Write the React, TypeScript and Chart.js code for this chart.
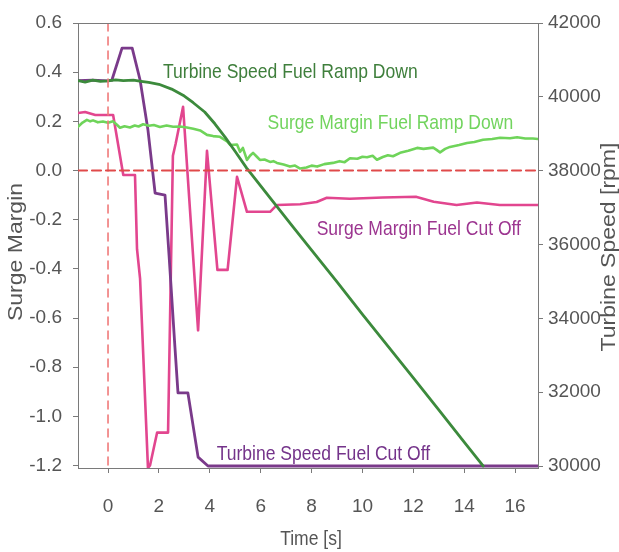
import React, { useEffect, useRef } from "react";
import { Chart, registerables } from "chart.js";

Chart.register(...registerables);

// Axis ticks
const timeTicks = [0, 2, 4, 6, 8, 10, 12, 14, 16];
const marginTicks = [0.6, 0.4, 0.2, 0.0, -0.2, -0.4, -0.6, -0.8, -1.0, -1.2];
const speedTicks = [30000, 32000, 34000, 36000, 38000, 40000, 42000];

// Turbine speed, fuel ramp down [rpm]
const rampSpeedTime = [-1.18, -0.9, -0.6, -0.3, 0.0, 0.3, 0.6, 1.0, 1.3, 1.6, 2.0, 2.5, 3.0, 3.35, 3.8, 4.2, 4.6, 5.0, 5.45, 6.37, 7.27, 8.0, 9.0, 10.0, 11.0, 12.0, 13.0, 14.0, 14.75];
const rampSpeedRpm = [40440, 40400, 40450, 40420, 40430, 40460, 40440, 40450, 40420, 40390, 40340, 40210, 40020, 39840, 39590, 39270, 38910, 38520, 38070, 37260, 36480, 35850, 34990, 34110, 33250, 32390, 31520, 30650, 30000];

// Turbine speed, fuel cut off [rpm]
const cutSpeedTime = [-1.18, -0.6, 0.0, 0.15, 0.55, 0.95, 1.26, 1.57, 1.85, 2.24, 2.4, 2.63, 2.75, 3.14, 3.54, 3.93, 16.9];
const cutSpeedRpm = [40440, 40450, 40430, 40450, 41320, 41320, 40455, 39100, 37395, 37340, 35690, 33220, 31980, 31980, 30240, 30000, 30000];

// Surge margin, fuel ramp down
const rampMarginTime = [-1.18, -1.0, -0.83, -0.7, -0.59, -0.4, -0.2, 0.0, 0.2, 0.35, 0.47, 0.65, 0.86, 1.05, 1.2, 1.38, 1.6, 1.8, 2.04, 2.3, 2.56, 2.83, 3.1, 3.35, 3.62, 3.89, 4.13, 4.4, 4.68, 4.8, 5.07, 5.19, 5.3, 5.46, 5.58, 5.7, 5.86, 5.97, 6.15, 6.37, 6.5, 6.64, 6.9, 7.15, 7.35, 7.55, 7.8, 8.0, 8.22, 8.5, 8.84, 9.1, 9.3, 9.51, 9.8, 10.0, 10.18, 10.4, 10.57, 10.8, 11.0, 11.2, 11.48, 11.8, 12.15, 12.4, 12.78, 12.9, 13.05, 13.25, 13.44, 13.8, 14.11, 14.4, 14.74, 15.1, 15.41, 15.8, 16.08, 16.4, 16.7, 16.9];
const rampMarginValue = [0.178, 0.195, 0.206, 0.2, 0.204, 0.196, 0.199, 0.194, 0.2, 0.186, 0.174, 0.18, 0.175, 0.183, 0.179, 0.188, 0.182, 0.185, 0.177, 0.183, 0.178, 0.179, 0.175, 0.17, 0.163, 0.145, 0.14, 0.137, 0.118, 0.104, 0.106, 0.076, 0.092, 0.043, 0.06, 0.072, 0.055, 0.043, 0.045, 0.035, 0.038, 0.031, 0.024, 0.016, 0.02, 0.008, 0.012, 0.02, 0.016, 0.026, 0.031, 0.038, 0.034, 0.05, 0.048, 0.056, 0.054, 0.06, 0.044, 0.055, 0.062, 0.058, 0.072, 0.08, 0.092, 0.088, 0.093, 0.085, 0.074, 0.088, 0.096, 0.104, 0.112, 0.116, 0.125, 0.128, 0.133, 0.131, 0.135, 0.13, 0.13, 0.128];

// Surge margin, fuel cut off
const cutMarginTime = [-1.18, -0.9, -0.5, 0.2, 0.6, 1.06, 1.14, 1.26, 1.57, 1.65, 1.93, 2.36, 2.55, 2.66, 2.95, 3.54, 3.89, 4.3, 4.7, 5.07, 5.46, 6.37, 6.64, 7.55, 8.2, 8.6, 9.5, 10.8, 12.1, 12.8, 13.7, 14.5, 15.4, 16.9];
const cutMarginValue = [0.234, 0.238, 0.226, 0.226, -0.018, -0.018, -0.32, -0.44, -1.21, -1.2, -1.066, -1.066, 0.06, 0.11, 0.259, -0.65, 0.08, -0.404, -0.404, -0.026, -0.168, -0.168, -0.14, -0.137, -0.128, -0.111, -0.115, -0.11, -0.107, -0.127, -0.14, -0.13, -0.14, -0.14];

// Reference lines
const zeroLineTime = [-1.18, 16.9];
const zeroLineValue = [0, 0];
const startLineTime = [0, 0];
const startLineValue = [0.6, -1.21];

// In-plot labels, anchored at (time, surge margin) of the text's left baseline
const labelText = ["Turbine Speed Fuel Ramp Down", "Surge Margin Fuel Ramp Down", "Surge Margin Fuel Cut Off", "Turbine Speed Fuel Cut Off"];
const labelTime = [2.16, 6.27, 8.2, 4.27];
const labelValue = [0.375, 0.17, -0.264, -1.176];
const labelColor = ["#3f7f3c", "#72d45e", "#9c3590", "#74338a"];

const zip = (xs: number[], ys: number[]) => xs.map((x, i) => ({ x, y: ys[i] }));

const SANS = "'Liberation Sans', Arial, sans-serif";
const TEXT_GREY = "#555555";
const AXIS_GREY = "#7a7a7a";
const SQUEEZE = 0.835; // narrow lettering

const W = 619;
const H = 552;

const decorations = {
  id: "decorations",
  afterDraw(chart: any) {
    const { ctx, chartArea, scales } = chart;
    const x = scales.x;
    const yl = scales.yMargin;

    ctx.save();
    // top edge of the plot frame
    ctx.strokeStyle = AXIS_GREY;
    ctx.lineWidth = 1;
    ctx.beginPath();
    ctx.moveTo(chartArea.left, chartArea.top + 0.5);
    ctx.lineTo(chartArea.right, chartArea.top + 0.5);
    ctx.stroke();

    const narrowText = (text: string, px: number, py: number, align: CanvasTextAlign) => {
      ctx.save();
      ctx.translate(px, py);
      ctx.scale(SQUEEZE, 1);
      ctx.textAlign = align;
      ctx.fillText(text, 0, 0);
      ctx.restore();
    };

    // series labels
    ctx.font = `21px ${SANS}`;
    ctx.textBaseline = "alphabetic";
    labelText.forEach((t, i) => {
      ctx.fillStyle = labelColor[i];
      narrowText(t, x.getPixelForValue(labelTime[i]), yl.getPixelForValue(labelValue[i]), "left");
    });

    // axis titles
    ctx.fillStyle = TEXT_GREY;
    ctx.textBaseline = "middle";
    ctx.font = `21px ${SANS}`;
    narrowText("Time [s]", 311, H - 13, "center");

    const vertical = (text: string, cx: number, cy: number) => {
      ctx.save();
      ctx.translate(cx, cy);
      ctx.rotate(-Math.PI / 2);
      ctx.scale(1, 0.85);
      ctx.textAlign = "center";
      ctx.font = `23px ${SANS}`;
      ctx.fillText(text, 0, 0);
      ctx.restore();
    };
    vertical("Surge Margin", 17, 252);
    vertical("Turbine Speed [rpm]", 610, 247);
    ctx.restore();
  },
};

export default function App() {
  const canvasRef = useRef<HTMLCanvasElement | null>(null);

  useEffect(() => {
    const canvas = canvasRef.current;
    if (!canvas) return;

    const tickFont = { family: SANS, size: 19 };
    const fixedTicks = (values: number[]) => (axis: any) => {
      axis.ticks = values.map((value) => ({ value }));
    };

    const chart = new Chart(canvas, {
      type: "line",
      data: {
        datasets: [
          {
            label: "zero",
            data: zip(zeroLineTime, zeroLineValue),
            yAxisID: "yMargin",
            borderColor: "#e04a4a",
            borderWidth: 2.2,
            borderDash: [9, 5],
            pointRadius: 0,
          },
          {
            label: "start",
            data: zip(startLineTime, startLineValue),
            yAxisID: "yMargin",
            borderColor: "#f07a7a",
            borderWidth: 1.6,
            borderDash: [8, 6],
            pointRadius: 0,
          },
          {
            label: "Turbine Speed Fuel Ramp Down",
            data: zip(rampSpeedTime, rampSpeedRpm),
            yAxisID: "ySpeed",
            borderColor: "#3c8a3c",
            borderWidth: 2.8,
            pointRadius: 0,
          },
          {
            label: "Surge Margin Fuel Ramp Down",
            data: zip(rampMarginTime, rampMarginValue),
            yAxisID: "yMargin",
            borderColor: "#6fd45a",
            borderWidth: 2.6,
            pointRadius: 0,
          },
          {
            label: "Turbine Speed Fuel Cut Off",
            data: zip(cutSpeedTime, cutSpeedRpm),
            yAxisID: "ySpeed",
            borderColor: "#7a3a8a",
            borderWidth: 2.8,
            pointRadius: 0,
          },
          {
            label: "Surge Margin Fuel Cut Off",
            data: zip(cutMarginTime, cutMarginValue),
            yAxisID: "yMargin",
            borderColor: "#e2468f",
            borderWidth: 2.6,
            pointRadius: 0,
          },
        ],
      },
      options: {
        responsive: false,
        animation: false,
        devicePixelRatio: 1,
        layout: { padding: { top: 23, left: 0, right: 0, bottom: 0 } },
        plugins: {
          legend: { display: false },
          tooltip: { enabled: false },
        },
        elements: { line: { tension: 0, borderJoinStyle: "round", borderCapStyle: "round" } },
        scales: {
          x: {
            type: "linear",
            min: -1.18,
            max: 16.9,
            afterBuildTicks: fixedTicks(timeTicks),
            afterFit: (s: any) => {
              s.height = H - 468;
            },
            ticks: {
              autoSkip: false,
              maxRotation: 0,
              padding: 22,
              color: TEXT_GREY,
              font: tickFont,
              callback: (v: any) => String(v),
            },
            grid: { drawOnChartArea: false, drawTicks: true, tickLength: 5, color: AXIS_GREY },
            border: { display: true, color: AXIS_GREY, width: 1 },
          },
          yMargin: {
            type: "linear",
            position: "left",
            min: -1.21,
            max: 0.6,
            afterBuildTicks: fixedTicks(marginTicks),
            afterFit: (s: any) => {
              s.width = 78;
            },
            ticks: {
              autoSkip: false,
              padding: 11,
              color: TEXT_GREY,
              font: tickFont,
              callback: (v: any) => Number(v).toFixed(1),
            },
            grid: { drawOnChartArea: false, drawTicks: true, tickLength: 5, color: AXIS_GREY },
            border: { display: true, color: AXIS_GREY, width: 1 },
          },
          ySpeed: {
            type: "linear",
            position: "right",
            min: 29946,
            max: 42000,
            afterBuildTicks: fixedTicks(speedTicks),
            afterFit: (s: any) => {
              s.width = W - 538;
            },
            ticks: {
              autoSkip: false,
              padding: 5,
              color: TEXT_GREY,
              font: tickFont,
              callback: (v: any) => String(v),
            },
            grid: { drawOnChartArea: false, drawTicks: true, tickLength: 5, color: AXIS_GREY },
            border: { display: true, color: AXIS_GREY, width: 1 },
          },
        },
      },
      plugins: [decorations],
    });

    return () => chart.destroy();
  }, []);

  return (
    <div style={{ position: "absolute", left: 0, top: 0, width: W, height: H, background: "#ffffff" }}>
      <canvas ref={canvasRef} width={W} height={H} style={{ display: "block" }} />
    </div>
  );
}
